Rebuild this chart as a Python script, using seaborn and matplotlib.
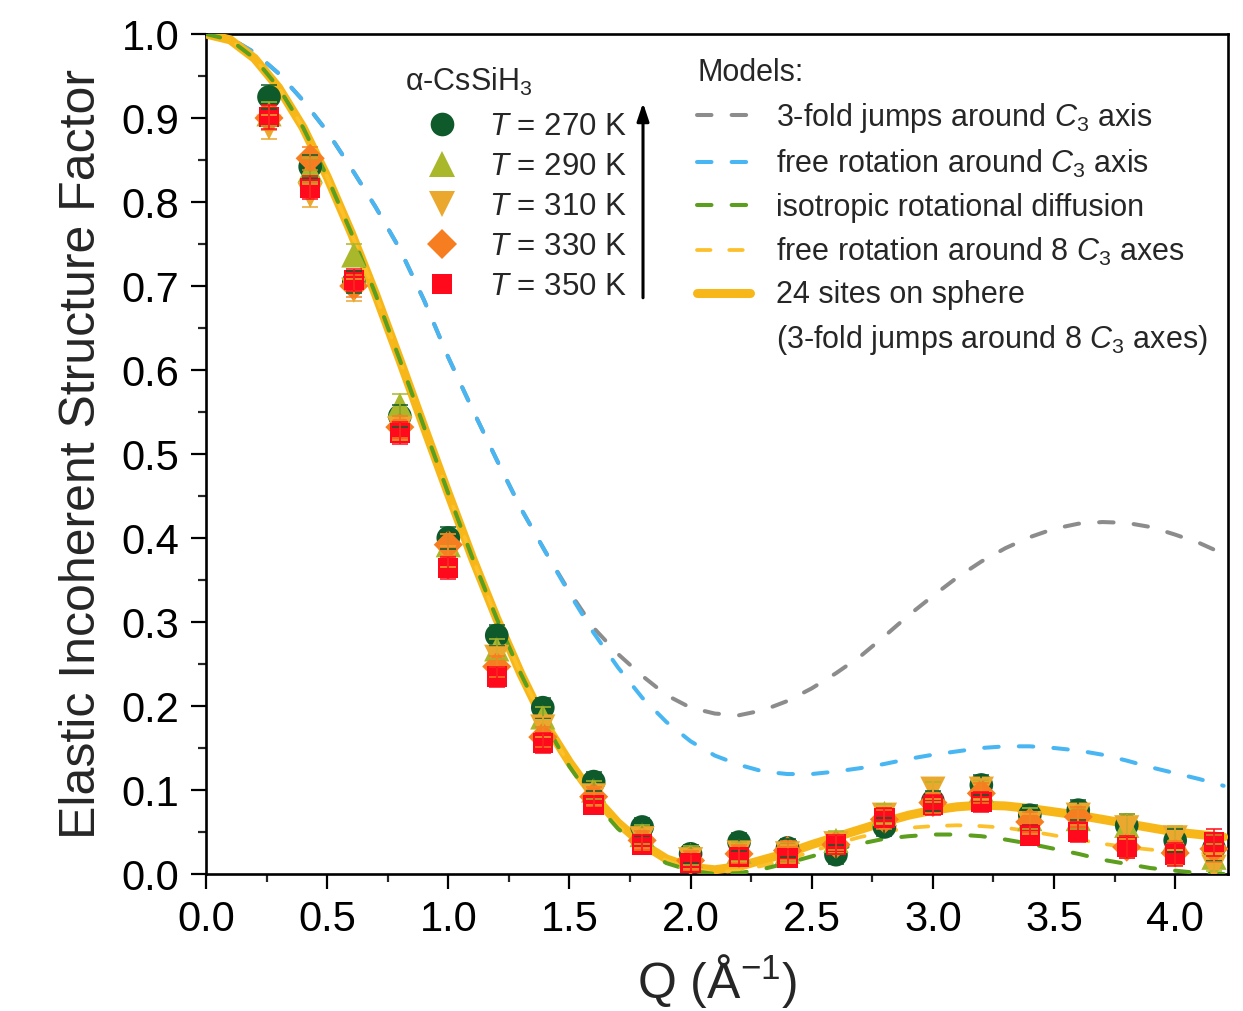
import matplotlib
matplotlib.use("Agg")
import matplotlib.pyplot as plt
import seaborn as sns
import pandas as pd
from matplotlib.lines import Line2D
from matplotlib.ticker import MultipleLocator

# ---------------- data ----------------
q_pts = [0.26, 0.43, 0.61, 0.80, 1.00, 1.20, 1.39, 1.60, 1.80, 2.00, 2.20,
         2.40, 2.60, 2.80, 3.00, 3.20, 3.40, 3.60, 3.80, 4.00, 4.16]
eisf_270 = [0.925, 0.842, 0.705, 0.545, 0.400, 0.284, 0.198, 0.110, 0.056, 0.024, 0.038,
            0.031, 0.023, 0.056, 0.087, 0.106, 0.070, 0.076, 0.058, 0.040, 0.031]
eisf_290 = [0.905, 0.838, 0.737, 0.558, 0.392, 0.268, 0.187, 0.100, 0.047, 0.022, 0.027,
            0.027, 0.040, 0.072, 0.098, 0.100, 0.066, 0.066, 0.058, 0.042, 0.020]
eisf_310 = [0.889, 0.808, 0.695, 0.530, 0.378, 0.258, 0.175, 0.093, 0.042, 0.017, 0.025,
            0.024, 0.036, 0.070, 0.101, 0.101, 0.060, 0.070, 0.055, 0.043, 0.008]
eisf_330 = [0.900, 0.852, 0.700, 0.532, 0.392, 0.247, 0.163, 0.092, 0.040, 0.016, 0.024,
            0.028, 0.035, 0.065, 0.085, 0.096, 0.062, 0.068, 0.032, 0.025, 0.030]
eisf_350 = [0.901, 0.817, 0.707, 0.525, 0.364, 0.235, 0.156, 0.082, 0.035, 0.013, 0.020,
            0.019, 0.035, 0.067, 0.082, 0.086, 0.046, 0.050, 0.032, 0.023, 0.038]
eisf_err = [0.014, 0.014, 0.013, 0.013, 0.013, 0.012, 0.012, 0.011, 0.011, 0.011, 0.011,
            0.011, 0.011, 0.011, 0.012, 0.012, 0.012, 0.012, 0.013, 0.014, 0.016]

q_model = [0.0, 0.1, 0.2, 0.3, 0.4, 0.5, 0.6, 0.7, 0.8, 0.9, 1.0, 1.1, 1.2, 1.3, 1.4,
           1.5, 1.6, 1.7, 1.8, 1.9, 2.0, 2.1, 2.2, 2.3, 2.4, 2.5, 2.6, 2.7, 2.8, 2.9,
           3.0, 3.1, 3.2, 3.3, 3.4, 3.5, 3.6, 3.7, 3.8, 3.9, 4.0, 4.1, 4.2]
m_3fold_c3 = [1.000, 0.995, 0.978, 0.953, 0.921, 0.884, 0.840, 0.794, 0.744, 0.683, 0.615,
              0.553, 0.493, 0.435, 0.384, 0.336, 0.293, 0.262, 0.236, 0.213, 0.198, 0.191,
              0.189, 0.195, 0.206, 0.221, 0.239, 0.259, 0.283, 0.308, 0.331, 0.353, 0.372,
              0.388, 0.401, 0.411, 0.417, 0.419, 0.418, 0.413, 0.404, 0.394, 0.381]
m_free_c3 = [1.000, 0.995, 0.978, 0.953, 0.921, 0.884, 0.840, 0.794, 0.744, 0.683, 0.615,
             0.553, 0.493, 0.435, 0.384, 0.334, 0.287, 0.246, 0.210, 0.181, 0.158, 0.141,
             0.130, 0.122, 0.119, 0.119, 0.122, 0.126, 0.131, 0.137, 0.142, 0.146, 0.150,
             0.152, 0.152, 0.150, 0.147, 0.142, 0.135, 0.127, 0.120, 0.113, 0.105]
m_isotropic = [1.000, 0.993, 0.971, 0.936, 0.889, 0.830, 0.763, 0.690, 0.612, 0.532, 0.453,
               0.376, 0.304, 0.238, 0.179, 0.128, 0.087, 0.054, 0.030, 0.013, 0.004, 0.000,
               0.001, 0.006, 0.013, 0.021, 0.029, 0.036, 0.042, 0.045, 0.047, 0.047, 0.045,
               0.041, 0.036, 0.030, 0.024, 0.017, 0.012, 0.007, 0.004, 0.001, 0.000]
m_free_8c3 = [1.000, 0.993, 0.971, 0.936, 0.889, 0.830, 0.763, 0.690, 0.612, 0.532, 0.453,
              0.376, 0.304, 0.238, 0.179, 0.130, 0.089, 0.057, 0.033, 0.016, 0.006, 0.002,
              0.004, 0.010, 0.017, 0.027, 0.036, 0.044, 0.050, 0.055, 0.057, 0.058, 0.057,
              0.055, 0.051, 0.046, 0.041, 0.036, 0.032, 0.029, 0.026, 0.025, 0.024]
m_24sites = [1.000, 0.993, 0.971, 0.936, 0.889, 0.830, 0.763, 0.690, 0.612, 0.532, 0.453,
             0.376, 0.304, 0.238, 0.179, 0.133, 0.093, 0.061, 0.036, 0.018, 0.008, 0.005,
             0.009, 0.017, 0.025, 0.035, 0.044, 0.053, 0.062, 0.070, 0.076, 0.080, 0.082,
             0.081, 0.078, 0.074, 0.070, 0.065, 0.060, 0.055, 0.050, 0.047, 0.044]

temps = ["270", "290", "310", "330", "350"]
model_labels = ["3-fold jumps around $C_3$ axis",
                "free rotation around $C_3$ axis",
                "isotropic rotational diffusion",
                "free rotation around 8 $C_3$ axes",
                "24 sites on sphere",
                "(3-fold jumps around 8 $C_3$ axes)"]

# ---------------- style ----------------
sns.set_theme(style="ticks")
plt.rcParams['font.family'] = ['Liberation Sans', 'DejaVu Sans']
plt.rcParams['mathtext.fontset'] = 'custom'
plt.rcParams['mathtext.rm'] = 'Liberation Sans'
plt.rcParams['mathtext.it'] = 'Liberation Sans:italic'
plt.rcParams['mathtext.bf'] = 'Liberation Sans:bold'

fig = plt.figure(figsize=(12.43, 10.11), dpi=100)
fig.patch.set_facecolor("white")
ax = fig.add_axes([206 / 1243, 1 - 874 / 1011, (1228 - 206) / 1243, (874 - 34) / 1011])
ax.set_facecolor("white")

# ---------------- model curves ----------------
dash = (0, (3.6, 5.0))
model_specs = [
    (m_3fold_c3, "#8c8c8c", 2.9, dash, 2),
    (m_free_c3, "#48b6f2", 2.9, dash, 3),
    (m_24sites, "#f8b719", 6.5, "-", 4),
    (m_free_8c3, "#fcc02a", 2.7, dash, 5),
    (m_isotropic, "#5c9e1d", 2.9, dash, 6),
]
for vals, col, lw, ls, z in model_specs:
    dfm = pd.DataFrame({"Q": q_model, "S": vals})
    sns.lineplot(data=dfm, x="Q", y="S", ax=ax, color=col, lw=lw, linestyle=ls,
                 sort=False, estimator=None, zorder=z, dash_capstyle="round",
                 solid_capstyle="round")

# ---------------- data points ----------------
series = [eisf_270, eisf_290, eisf_310, eisf_330, eisf_350]
colors = ["#0e5a2b", "#a9b72b", "#eaa82e", "#f67e21", "#fe0a1c"]
markers = ["o", "^", "v", "D", "s"]
sizes = [290, 330, 330, 220, 215]
for i, (vals, col, mk, s) in enumerate(zip(series, colors, markers, sizes)):
    dfp = pd.DataFrame({"Q": q_pts, "S": vals})
    sns.scatterplot(data=dfp, x="Q", y="S", ax=ax, color=col, marker=mk, s=s,
                    edgecolor="none", linewidth=0, zorder=10 + i)
for i, (vals, col) in enumerate(zip(series, colors)):
    ax.errorbar(q_pts, vals, yerr=eisf_err, fmt="none", ecolor=col, elinewidth=1.1,
                capsize=6, capthick=1.1, zorder=20 + i)

# ---------------- axes ----------------
ax.set_xlim(0, 4.218)
ax.set_ylim(0, 1.0)
ax.xaxis.set_minor_locator(MultipleLocator(0.25))
ax.yaxis.set_minor_locator(MultipleLocator(0.05))
ax.set_xticks([0, 0.5, 1.0, 1.5, 2.0, 2.5, 3.0, 3.5, 4.0])
ax.set_xticklabels(["0.0", "0.5", "1.0", "1.5", "2.0", "2.5", "3.0", "3.5", "4.0"])
ax.set_yticks([0.0, 0.1, 0.2, 0.3, 0.4, 0.5, 0.6, 0.7, 0.8, 0.9, 1.0])
ax.set_yticklabels(["0.0", "0.1", "0.2", "0.3", "0.4", "0.5", "0.6", "0.7", "0.8", "0.9", "1.0"])
ax.tick_params(which="major", direction="out", length=11, width=1.6, labelsize=30,
               colors="black", pad=8, top=False, right=False)
ax.tick_params(which="minor", direction="out", length=6, width=1.6, top=False, right=False)
for sp in ax.spines.values():
    sp.set_visible(True)
    sp.set_linewidth(1.9)
    sp.set_color("black")

ax.set_xlabel("Q (Å$^{\\mathrm{-1}}$)", fontsize=36, labelpad=8)
ax.set_ylabel("Elastic Incoherent Structure Factor", fontsize=36, labelpad=12)

# ---------------- legends ----------------
fs1 = 22.5
h1 = [Line2D([], [], ls="", marker=mk, ms=(s ** 0.5), color=col, markeredgewidth=0)
      for mk, col, s in zip(markers, colors, sizes)]
l1 = [f"$T$ = {t} K" for t in temps]
leg1 = ax.legend(h1, l1, loc="upper left", bbox_to_anchor=(419 / 1243, 1 - 112 / 1011),
                 bbox_transform=fig.transFigure, frameon=False, borderpad=0,
                 borderaxespad=0, handlelength=1.45, handletextpad=0.8,
                 labelspacing=0.32, fontsize=fs1)
ax.add_artist(leg1)
fig.text(405 / 1243, 1 - 82 / 1011, "α-CsSiH$_3$", fontsize=22, ha="left", va="center")
ax.annotate("", xy=(0.4276, 0.918), xytext=(0.4276, 0.686), xycoords="axes fraction",
            arrowprops=dict(arrowstyle="-|>,head_length=0.9,head_width=0.3", lw=2.2,
                            color="black", shrinkA=0, shrinkB=0), zorder=30)

fs2 = 22
h2 = [Line2D([], [], color=col, lw=lw, linestyle=ls, dash_capstyle="round")
      for vals, col, lw, ls, z in model_specs]
# order in legend: grey, blue, green, orange dashed, orange solid, (continuation)
order = [0, 1, 4, 3, 2]
h2 = [h2[k] for k in order] + [Line2D([], [], color="none")]
leg2 = ax.legend(h2, model_labels, loc="upper left", bbox_to_anchor=(697 / 1243, 1 - 58 / 1011),
                 bbox_transform=fig.transFigure, frameon=False, borderpad=0,
                 borderaxespad=0, handlelength=1.72, handletextpad=0.88,
                 labelspacing=0.42, fontsize=fs2, title="Models:",
                 title_fontsize=fs2, alignment="left")

fig.savefig("out.png", dpi=100, facecolor="white")
